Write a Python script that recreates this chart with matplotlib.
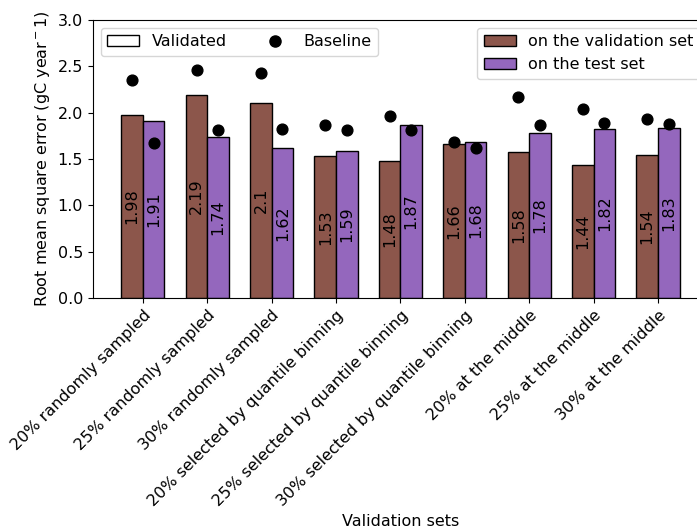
import matplotlib
matplotlib.use("Agg")
import matplotlib.pyplot as plt
import numpy as np
from matplotlib.patches import Patch
from matplotlib.lines import Line2D

sets = ["20% randomly sampled", "25% randomly sampled", "30% randomly sampled",
        "20% selected by quantile binning", "25% selected by quantile binning",
        "30% selected by quantile binning", "20% at the middle",
        "25% at the middle", "30% at the middle"]
rmse_val = [1.98, 2.19, 2.1, 1.53, 1.48, 1.66, 1.58, 1.44, 1.54]
rmse_test = [1.91, 1.74, 1.62, 1.59, 1.87, 1.68, 1.78, 1.82, 1.83]
base_val = [2.35, 2.46, 2.43, 1.87, 1.96, 1.68, 2.17, 2.04, 1.93]
base_test = [1.67, 1.81, 1.82, 1.81, 1.81, 1.62, 1.87, 1.89, 1.88]

x = np.arange(len(sets))
w = 0.335
fs = 11.5

fig, ax = plt.subplots(figsize=(6.97, 5.29), dpi=100)
# the original is cropped on the right, the axes runs past the image edge
fig.subplots_adjust(left=0.133, right=1.016, top=0.962, bottom=0.437)

b1 = ax.bar(x - w / 2, rmse_val, w, color="tab:brown", edgecolor="black",
            label="on the validation set")
b2 = ax.bar(x + w / 2, rmse_test, w, color="tab:purple", edgecolor="black",
            label="on the test set")
ax.bar_label(b1, labels=[str(v) for v in rmse_val], label_type="center", rotation=90, fontsize=fs)
ax.bar_label(b2, labels=[str(v) for v in rmse_test], label_type="center", rotation=90, fontsize=fs)
ax.scatter(x - w / 2, base_val, color="black", s=60, zorder=3)
ax.scatter(x + w / 2, base_test, color="black", s=60, zorder=3)

ax.set_ylim(0, 3.0)
ax.set_xlim(-0.78, 8.78)
ax.set_xticks(x)
ax.set_xticklabels(sets, rotation=45, ha="right", rotation_mode="anchor", fontsize=fs)
ax.tick_params(axis="y", labelsize=fs)
ax.set_ylabel("Root mean square error (gC year$^-1$)", fontsize=fs)
ax.set_xlabel("Validation sets", fontsize=fs)

leg1 = ax.legend(handles=[Patch(facecolor="white", edgecolor="black", label="Validated"),
                          Line2D([], [], marker="o", color="black", ls="", markersize=8, label="Baseline")],
                 loc="upper left", ncol=2, fontsize=fs)
ax.add_artist(leg1)
ax.legend(handles=[b1, b2], loc="upper right", fontsize=fs)

plt.savefig("out.png")
